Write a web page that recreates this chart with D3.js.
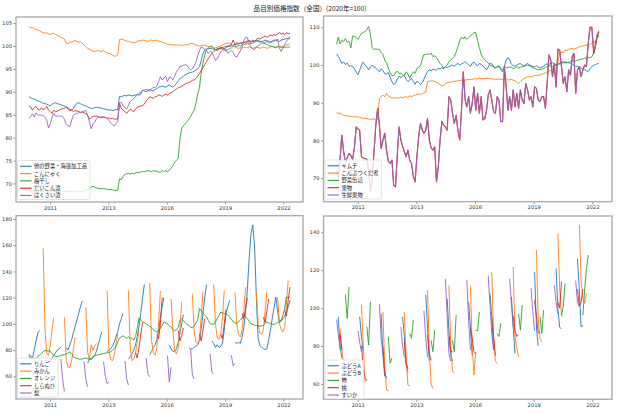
<!DOCTYPE html>
<html><head><meta charset="utf-8">
<script src="https://cdn.jsdelivr.net/npm/d3@7"></script>
<style>body{margin:0;background:#fff}svg{display:block}</style>
</head><body><svg id="c" width="620" height="413"></svg>
<script>
const _ = null;
// monthly index 0 = 2010-01 ... 147 = 2022-04
const N = 148;
const months = d3.range(N).map(i => new Date(Date.UTC(2010, i + 1, 0)));
const xTickDays = [15000, 16000, 17000, 18000, 19000];
const xTickLabels = ["2011", "2013", "2016", "2019", "2022"];
const title = "品目別価格指数（全国）(2020年=100)";

// ---- top-left
const tlNames = ["他の野菜・海藻加工品", "こんにゃく", "梅干し", "だいこん漬", "はくさい漬"];
const otherVeg = [88.9,88.7,88.5,88.4,88.2,88.0,87.9,87.7,87.5,87.4,87.3,87.1,
86.9,87.3,87.5,87.6,87.4,87.3,87.2,87.0,86.9,86.7,86.5,86.2,
86.0,86.4,87.0,87.5,87.6,87.4,87.2,87.0,86.9,86.7,86.5,86.4,
86.4,86.5,86.6,86.6,86.5,86.4,86.3,86.2,86.1,86.0,86.0,85.9,
86.0,86.1,86.1,89.0,88.9,89.1,89.2,89.1,89.3,89.2,89.1,89.2,
89.3,89.4,89.3,89.5,90.4,90.2,90.0,90.3,90.5,90.3,90.2,90.5,
90.7,91.0,91.1,91.3,91.1,91.0,91.3,91.5,91.2,91.0,91.4,91.8,
92.4,92.9,93.1,93.4,93.7,93.9,94.1,94.2,94.3,94.5,94.7,95.0,
95.5,96.8,98.3,99.1,99.3,99.4,99.5,99.4,99.3,99.2,99.4,99.5,
99.7,99.6,99.8,99.9,100.0,99.9,100.1,100.2,100.3,100.4,100.5,100.6,
100.7,100.8,100.9,101.1,101.2,101.0,100.9,101.1,101.2,101.0,100.8,101.0,
101.1,101.3,101.2,101.0,100.9,101.1,101.3,101.2,101.1,101.0,101.3,101.4,
101.5,101.6,101.7,101.9];
const konnyaku = [104.3,103.9,104.1,103.8,103.6,103.5,103.3,103.1,102.9,102.8,102.9,102.6,
102.5,102.7,102.8,102.5,102.3,102.1,101.9,101.7,101.5,100.6,100.5,100.8,
100.9,101.0,101.2,101.0,100.8,101.0,100.6,100.2,99.8,99.5,99.3,99.1,
98.9,98.8,98.9,99.0,98.8,98.8,99.0,98.7,98.5,98.4,98.3,98.0,
97.8,97.8,98.0,101.4,101.5,101.4,101.2,101.1,101.0,100.9,100.8,100.7,
100.8,101.0,101.2,101.1,101.3,101.2,101.1,101.0,101.2,101.3,101.1,101.2,
101.3,101.1,101.0,100.8,100.7,100.5,100.4,100.3,100.2,100.3,100.2,100.2,
100.2,100.2,100.1,100.2,100.3,100.2,100.4,100.5,100.6,100.4,100.2,100.1,
100.0,100.1,100.2,100.1,100.0,99.9,99.9,99.7,99.5,99.6,99.7,99.9,
100.0,100.2,100.4,100.5,100.6,100.6,100.3,100.0,99.8,99.6,99.5,99.6,
99.6,99.8,99.7,99.6,99.8,99.7,99.5,99.6,99.8,99.7,99.5,99.6,
99.8,99.7,99.5,99.6,99.8,99.9,99.7,99.6,99.8,99.9,100.0,99.8,
100.1,100.3,100.2,100.5];
const umeboshi = [68.3,68.2,68.4,68.3,68.2,68.4,68.3,68.2,68.3,68.4,68.3,68.2,
68.3,68.4,68.3,68.2,68.3,68.2,68.4,68.3,68.2,68.3,68.2,68.3,
68.3,68.2,68.3,68.4,68.3,68.2,68.3,68.4,68.5,68.7,68.9,69.1,
69.4,69.2,69.0,68.9,68.9,68.8,68.9,68.8,68.7,68.6,68.7,68.6,
68.5,68.4,68.5,71.0,70.8,71.5,72.0,72.1,72.2,72.0,72.2,72.1,
72.3,72.4,72.3,72.5,72.6,72.5,72.7,72.8,72.7,72.6,72.8,72.7,
72.7,72.5,72.4,72.8,72.6,72.8,72.5,72.9,73.3,73.9,74.6,75.0,
75.5,79.5,82.0,82.6,83.0,83.5,84.0,84.6,85.3,86.0,87.5,89.5,
91.0,94.0,96.3,98.0,99.2,99.6,99.9,100.0,99.6,99.2,99.0,99.3,
99.6,99.3,99.1,99.0,99.2,99.4,99.6,99.9,100.0,99.9,100.1,100.0,
100.2,100.4,100.3,100.5,100.4,100.6,100.6,100.8,101.0,101.2,101.1,100.9,
100.7,100.5,100.3,100.1,100.0,99.9,99.8,99.7,99.9,99.8,99.7,99.6,
99.7,99.8,99.7,99.8];
const daikonZuke = [86.9,86.7,86.0,86.5,86.8,86.2,86.0,86.5,86.1,86.3,86.8,86.0,
85.7,85.3,86.0,85.6,85.8,86.0,86.2,86.3,86.4,86.6,86.2,85.9,
86.0,85.7,85.9,85.8,85.7,85.5,85.6,85.4,85.2,84.9,84.0,84.4,
84.6,84.7,84.7,84.5,84.4,84.3,84.5,84.4,84.2,84.3,84.1,84.2,
84.0,84.1,84.0,87.5,86.4,86.0,85.7,85.3,85.8,86.2,85.9,85.7,
86.3,86.6,86.8,86.9,87.0,87.3,88.0,88.4,88.9,88.7,88.6,88.9,
89.0,89.3,89.2,89.0,89.3,89.5,89.3,89.6,89.8,90.0,90.3,90.6,
90.9,91.0,91.2,91.5,91.7,91.9,92.0,92.2,92.5,92.6,92.9,93.4,
94.0,94.6,95.3,95.9,96.6,97.2,97.8,98.4,98.8,99.1,99.3,99.5,
99.4,99.6,99.3,99.7,99.9,100.0,100.4,101.3,100.3,100.8,100.4,100.7,
100.5,100.9,100.6,100.9,101.1,100.8,101.3,101.0,101.4,101.7,101.5,101.8,
102.0,102.2,101.9,102.1,102.4,102.2,102.5,102.3,102.7,102.9,102.6,102.8,
102.5,102.9,102.7,102.8];
const hakusaiZuke = [84.2,84.6,85.2,84.5,85.4,85.0,84.9,84.9,84.8,84.5,83.8,82.1,
83.0,84.4,85.3,84.7,84.7,84.7,84.7,84.6,84.0,83.0,82.6,82.4,
83.8,84.8,85.2,85.3,85.4,85.5,85.7,85.8,85.9,84.9,83.5,81.9,
83.0,83.4,84.1,84.6,84.4,84.6,84.5,84.4,84.2,83.8,83.2,82.8,
82.5,83.1,83.5,87.6,87.7,87.0,86.6,86.2,87.0,87.9,88.2,88.6,
88.9,89.3,89.7,89.9,90.2,90.4,90.5,90.4,90.2,90.6,91.0,90.9,
91.3,92.2,93.3,92.6,93.0,93.4,92.2,93.2,93.1,92.6,93.4,94.3,
94.9,95.5,95.6,95.8,95.9,95.8,95.2,94.8,95.0,95.7,96.5,97.9,
99.0,99.8,99.6,99.3,99.0,98.4,98.8,98.7,97.8,96.9,97.2,98.0,
98.7,99.1,99.4,99.2,98.4,98.7,99.0,98.6,97.8,97.6,98.2,98.9,
99.9,101.2,101.9,101.8,100.6,99.8,99.3,99.2,99.8,100.0,100.3,100.7,
100.5,100.8,101.0,100.8,100.6,100.9,101.1,101.3,101.5,99.5,98.8,99.6,
100.4,101.0,101.5,101.7];

// ---- top-right
const trNames = ["キムチ", "こんぶつくだ煮", "野菜缶詰", "果物", "生鮮果物"];
const kimchi = [102.9,102.3,101.4,100.4,100.8,100.1,100.5,99.7,99.8,99.6,99.0,98.2,
97.4,98.6,100.0,100.8,100.0,99.5,98.7,99.5,100.0,99.5,99.2,98.7,
98.2,99.0,98.5,97.7,97.6,98.0,96.8,95.6,94.8,95.2,96.2,97.0,
96.6,97.0,97.3,96.2,95.6,96.0,96.5,95.6,94.9,95.7,95.2,94.8,
95.3,96.2,97.3,98.3,98.7,98.5,98.9,98.8,98.6,99.1,98.9,99.3,
99.0,99.6,99.3,99.6,99.8,100.0,99.6,100.2,100.4,100.0,100.3,100.5,
100.9,100.5,100.0,99.6,100.5,100.8,100.1,99.8,100.4,100.2,99.7,99.3,
98.7,99.5,100.5,100.3,99.5,99.1,99.6,99.8,98.7,98.2,99.6,101.3,
102.0,101.4,100.2,99.8,99.7,100.0,100.3,100.4,100.0,99.7,100.2,100.4,
100.0,99.8,99.6,99.5,99.8,99.5,99.2,99.4,99.7,100.1,100.3,100.2,
100.4,100.6,100.3,100.0,100.2,100.4,100.7,100.9,100.5,100.6,100.7,100.4,
100.2,99.9,99.7,99.6,99.4,99.2,99.0,98.7,98.5,98.3,99.0,99.6,
99.9,100.1,100.3,100.5];
const kombu = [87.6,87.0,87.3,86.8,86.7,86.6,86.5,86.4,86.3,86.3,86.2,86.3,
86.2,86.1,86.0,85.8,85.9,85.8,85.7,85.6,85.6,85.7,85.6,85.6,
91.2,91.6,92.0,91.6,92.5,91.8,91.5,91.2,91.3,91.2,91.4,91.2,
91.5,91.3,91.5,91.6,91.4,91.8,91.6,91.9,92.0,92.2,92.3,92.2,
92.4,92.6,92.8,95.6,95.7,95.8,95.8,95.6,95.5,95.2,94.8,94.4,
94.6,95.0,95.3,95.4,95.5,95.6,95.7,95.7,95.8,95.9,96.0,95.9,
96.0,96.1,96.2,96.1,96.2,96.3,96.4,96.3,96.5,96.4,96.3,96.4,
96.5,96.4,96.4,96.3,96.2,96.3,96.2,96.3,96.2,96.1,96.2,96.3,
96.0,96.1,96.2,96.0,95.8,95.5,95.1,95.6,96.0,96.4,96.7,96.9,
96.9,96.8,97.0,97.2,97.3,97.2,97.4,97.6,97.7,97.9,98.2,98.5,
98.4,99.0,99.5,100.0,100.9,103.1,103.4,103.3,104.0,103.8,104.2,104.3,
104.4,104.2,104.4,104.6,104.8,105.0,105.0,105.2,105.3,105.1,105.5,105.8,
106.2,106.0,107.1,108.0];
const vegCan = [105.5,107.4,105.6,106.6,106.2,107.0,106.0,106.4,104.5,107.7,107.6,107.3,
106.8,107.6,108.4,108.6,108.9,109.4,110.2,108.2,104.6,104.1,104.3,104.1,
104.2,103.3,102.8,101.3,100.6,99.2,98.0,97.2,97.2,97.9,98.4,97.7,
97.9,97.4,97.2,98.2,97.6,96.5,97.5,98.2,97.8,99.1,99.4,99.8,
101.5,102.8,102.7,103.0,102.8,103.2,102.2,102.5,102.0,101.2,100.4,100.0,
99.1,99.6,100.0,100.9,101.3,101.8,102.3,103.4,104.8,106.5,107.4,106.9,
107.5,106.8,107.3,107.7,108.1,108.6,108.6,106.5,104.6,102.8,102.0,101.4,
100.9,100.5,100.0,99.7,99.6,99.3,99.5,99.6,99.1,98.7,99.0,99.4,
99.2,99.5,99.4,99.0,99.2,99.6,99.2,99.4,99.5,99.7,99.8,100.0,
99.8,99.6,99.3,99.1,98.9,98.7,98.8,98.9,99.1,99.4,99.6,99.8,
99.7,99.6,99.8,100.0,100.2,100.3,100.4,100.6,100.9,100.7,100.6,100.9,
101.1,101.0,101.1,101.3,101.4,101.5,101.6,101.8,101.9,102.0,101.9,102.2,
103.1,105.5,108.0,107.5];
const fruit = [72,70,75,81.4,77,74,75.5,76.5,76,75,78,83.6,
83,82.7,75.7,75.3,75.2,75,72,66.4,70,77,84,88.5,
84,77.9,80,81.9,77.4,74.5,73.9,74.8,68.1,67.7,76,83.6,
80.1,78.5,77,75.7,77.4,74.8,73.9,70.5,69,75.7,81,84.5,
82.7,81.9,82.7,85.8,80.1,78,77.4,78.3,69,73,80,85,
84,83.6,82.7,91.6,90.7,87.2,84.5,86.7,82.7,80.1,88,98.2,
90.7,88.9,91.6,87.2,89.8,94.2,88,92.5,87.2,91.6,85.4,85.8,
88,92,93.4,90.7,87.6,87.2,91.6,90.7,85,85,99.6,94.2,
88,91.6,88,93.4,88.9,92.5,88.5,93.4,90.7,89.8,95.1,93.4,
90.7,91.6,88.9,94.2,93.8,90.7,90.3,91.6,91.6,88.5,95.1,102.7,
101.3,96.9,100.4,94.2,104.2,104,99.6,95.1,96.9,92.9,98.7,97.3,
102.2,103.1,92.5,98.7,99.6,96.9,98.7,100,99.6,105.8,110,110,
103,104.8,107.5,108.8];
const freshFruit = [72,70,75,81.4,77,74,75.5,76.5,76,75,78,83.6,
83,82.7,75.7,75.3,75.2,75,72,66.4,70,77,84,88.5,
84,77.9,80,81.9,77.4,74.5,73.9,74.8,68.1,67.7,76,83.6,
80.1,78.5,77,75.7,77.4,74.8,73.9,70.5,69,75.7,81,84.5,
82.7,81.9,82.7,85.8,80.1,78,77.4,78.3,69,73,80,85,
84,83.6,82.7,91.6,90.7,87.2,84.5,86.7,82.7,80.1,88,98.2,
90.7,88.9,91.6,87.2,89.8,94.2,88,92.5,87.2,91.6,85.4,85.8,
88,92,93.4,90.7,87.6,87.2,91.6,90.7,85,85,99.6,94.2,
88,91.6,88,93.4,88.9,92.5,88.5,93.4,90.7,89.8,95.1,93.4,
90.7,91.6,88.9,94.2,93.8,90.7,90.3,91.6,91.6,88.5,95.1,102.7,
101.3,96.9,100.4,94.2,104.2,104,99.6,95.1,96.9,92.9,98.7,97.3,
102.2,103.1,92.5,98.7,99.6,96.9,98.7,100,99.6,105.8,110,110,
103.8,104.5,108.2,109.1];

// ---- bottom-left
const blNames = ["りんご", "みかん", "オレンジ", "しらぬひ", "梨"];
const apple = [76,73,74,80,87,93,95,_,_,72,72.5,71,
72,74,76,78,80,81,82.5,_,_,82,80,84,
88,93,98,103,108,113,117.5,_,_,70,73,73,
74,76,79,84,89,94,_,_,79,80,81,83,
86,90,94,100,104,108,_,_,73,75,77,80,
84,90,98,108,120,130,_,_,76.5,79,82,84,
88,95,105,113,120,_,_,84,81,79,79,81,
86,93,100,107,_,_,82,80.7,81,82,83,84,
88,96,108,120,130,_,_,87,85,82,84,82,
83,85,95,108,113,118,_,_,86,85,86,85,
90,97,110,126,150,168,175.5,160,122,89,83.5,82,
81,80.5,81,88,95,104,112,120.5,110,101,102,104,
106,109,113,118];
const mikan = [_,_,_,_,_,_,_,_,157.6,96,77,76,
84,95,105,_,_,_,_,_,105,72,67,66.5,
72,80,90,_,_,_,_,_,112.7,78,73,84,
80,83,85,_,_,_,_,_,125.4,80,73,72,
76,84,92,_,_,_,_,_,125.5,82,72,73,
78,86,95,_,_,_,_,_,131.5,88,78,76,
82,100,125,_,_,_,_,_,119,95,80,77,
82,95,117,_,_,_,_,_,123,95,86,85,
88,105,124.6,_,_,_,_,_,130,100,90,88,
92,105,125.4,_,_,_,_,_,124,100,92,90,
95,110,128,_,_,_,_,_,125,100,93,92,
96,110,124.6,_,_,_,_,_,120.3,100,96,94,
98,115,133,_];
const orange = [76.9,75.5,73.3,73.2,73.5,75.3,76.2,77.5,78.7,79.7,79.5,79.4,
79.4,77.2,76.0,75.2,75.0,75.4,75.9,76.4,76.7,76.9,77.8,78.7,
77.4,75.0,74.1,73.6,73.2,73.0,73.3,73.6,74.0,73.5,73.0,73.8,
74.9,75.6,76.1,76.4,76.6,77.0,77.4,77.7,77.9,78.3,78.7,80.0,
81.2,82.5,86.0,89.3,90.0,90.9,90.1,88.8,90.1,89.3,88.8,87.6,
90.5,96.4,104.6,102.8,101.5,101.0,100.0,99.0,98.0,97.0,95.6,94.4,
93.9,95.0,96.4,99.0,101.5,100.8,100.2,98.5,97.7,95.7,94.7,95.5,
97.5,102.8,104.0,102.5,100.8,99.7,98.7,97.5,97.0,98.5,100.5,102.8,
111.7,110.0,108.5,106.6,105.3,102.8,100.2,99.8,99.5,101.5,104.0,106.5,
109.0,108.5,107.8,108.0,106.5,105.3,103.5,101.5,100.8,100.2,101.5,102.8,
104.5,106.6,105.3,104.0,102.0,100.2,99.6,99.0,98.7,98.5,98.2,98.5,
99.0,100.2,101.5,100.8,100.2,99.8,99.5,100.2,101.0,102.0,102.8,106.6,
112.0,120.6,119.8,120.6];
const shiranuhi = [_,_,_,_,_,_,_,_,_,_,_,_,
_,_,_,_,_,_,_,_,_,_,_,_,
_,_,_,_,_,_,_,_,_,_,_,_,
_,_,_,_,_,_,_,_,_,_,_,_,
_,_,_,_,_,_,_,_,_,_,_,_,
78,74,82,92,101,_,_,_,_,_,_,_,
92,88.6,100,120,_,_,_,_,_,_,_,_,
95,87,91,97,_,_,_,_,_,_,_,_,
92,87,95,104,_,_,_,_,_,_,_,_,
92,88.6,100,111,_,_,_,_,_,_,_,_,
108,104,112,120,_,_,_,_,_,_,_,_,
105,101,110,119,_,_,_,_,_,_,_,_,
110,106,118,128];
const nashi = [_,_,_,_,_,_,_,_,_,_,_,_,
_,_,_,_,_,_,73,57,48.5,_,_,_,
_,_,_,_,_,_,_,71,58,52,_,_,
_,_,_,_,_,_,71,60,54.5,55.5,_,_,
_,_,_,_,_,_,71.6,58.4,53.3,_,_,_,
_,_,_,_,_,_,74,62,59.6,_,_,_,
_,_,_,_,_,_,75.8,55.6,67,_,_,_,
_,_,_,_,_,_,_,81,61,58,_,_,
_,_,_,_,_,_,77,63,62,_,_,_,
_,_,_,_,_,_,76,68,70,_,_,_,
_,_,_,_,_,_,_,_,_,_,_,_,
_,_,_,_,_,_,_,_,_,_,_,_,
_,_,_,_];

// ---- bottom-right
const brNames = ["ぶどうA", "ぶどうB", "柿", "桃", "すいか"];
const grapeA = [_,95.4,80,73.5,_,_,_,_,_,_,_,_,
_,95.4,85,77,_,_,_,_,_,_,_,_,
_,97,75,64,_,_,_,_,_,_,_,_,
_,95.4,85,70,66,_,_,_,_,_,_,_,
_,_,106.9,90,72,_,_,_,_,_,_,_,
_,_,105,88,75,72,_,_,_,_,_,_,
_,_,103.3,90,75,_,_,_,_,_,_,_,
_,_,107.7,95,78,_,_,_,_,_,_,_,
_,_,106,90,76,_,_,_,_,_,_,_,
_,_,_,119,90,80,_,_,_,_,_,_,
_,_,_,121,100,90,89,_,_,_,_,_,
_,_,_,126,110,90,91,_,_,_,_,_,
_,_,_,_];
const grapeB = [_,_,89.3,78,70.8,_,_,_,_,_,_,_,
_,_,101.9,80.5,61.2,62.5,_,_,_,_,_,_,
_,_,98,70,56.8,56.5,_,_,_,_,_,_,
_,_,98,75,59.4,59,_,_,_,_,_,_,
_,_,_,109.5,77,60,57.6,_,_,_,_,_,
_,_,_,112,80.5,67,65.6,_,_,_,_,_,
_,_,_,112,80,64.7,77,_,_,_,_,_,
_,_,_,119,85,72,70.8,_,_,_,_,_,
_,_,_,121.8,85,78.7,74.3,_,_,_,_,_,
_,_,_,_,130.6,95,84,82.3,_,_,_,_,
_,_,_,_,139.4,110,96.3,95.5,_,_,_,_,
_,_,_,_,144,115,105,102.5,108,_,_,_,
_,_,_,_];
const kaki = [_,_,_,_,_,107.2,94.5,111.2,_,_,_,_,
_,_,_,_,_,90.2,80.5,103.3,_,_,_,_,
_,_,_,_,_,85,71,73.5,_,_,_,_,
_,_,_,_,_,86.6,84,93.7,_,_,_,_,
_,_,_,_,_,83,77,88.4,_,_,_,_,
_,_,_,_,_,83,77,96.3,_,_,_,_,
_,_,_,_,_,_,88.4,88,98,_,_,_,
_,_,_,_,_,_,86.6,85,92,_,_,_,
_,_,_,_,_,_,97,88.4,101.6,_,_,_,
_,_,_,_,_,_,95.4,86.6,98.9,_,_,_,
_,_,_,_,_,_,96,101,113,_,_,_,
_,_,_,_,_,_,96.3,110,121,128,_,_,
_,_,_,_];
const momo = [_,_,86,78,_,_,_,_,_,_,_,_,
_,_,80,68,63,62,_,_,_,_,_,_,
_,_,80,66,63,_,_,_,_,_,_,_,
_,_,82,71,68,_,_,_,_,_,_,_,
_,_,_,86,76,72.5,_,_,_,_,_,_,
_,_,_,85,77,77,_,_,_,_,_,_,
_,_,_,90,84,77,76,_,_,_,_,_,
_,_,_,95,85,75,_,_,_,_,_,_,
_,_,_,96,88,85,86,_,_,_,_,_,
_,_,_,104,96,87,87,_,_,_,_,_,
_,_,_,_,103,100,114,_,_,_,_,_,
_,_,_,110,101,103,110,_,_,_,_,_,
_,_,_,_];
const suika = [94,86,78,_,_,_,_,_,_,_,_,_,
88,82,77,_,_,_,_,_,_,_,_,_,
102,84,76,_,_,_,_,_,_,_,_,_,
90,80,74,_,_,_,_,_,_,_,_,_,
_,98.5,84,74,_,_,_,_,_,_,_,_,
_,115.5,96,76,72,_,_,_,_,_,_,_,
_,115,93,78,_,_,_,_,_,_,_,_,
_,117,101,86,78,_,_,_,_,_,_,_,
_,115.5,102,90,_,_,_,_,_,_,_,_,
_,110.5,98,88,_,_,_,_,_,_,_,_,
_,_,112,103,97,_,_,_,_,_,_,_,
_,_,114.5,103,101,_,_,_,_,_,_,_,
_,_,_,_];

const colors = ["#1f77b4", "#ff7f0e", "#2ca02c", "#d62728", "#9467bd"];

const panels = [
  {box: [16, 17, 303, 202], yDom: [65.94, 106.33], yTicks: d3.range(70, 106, 5),
   names: tlNames, series: [otherVeg, konnyaku, umeboshi, daikonZuke, hakusaiZuke],
   leg: [17.5, 160.5]},
  {box: [323.5, 16, 612, 201.7], yDom: [63.74, 113.0], yTicks: [70, 80, 90, 100, 110],
   names: trNames, series: [kimchi, kombu, vegCan, fruit, freshFruit],
   leg: [325, 160]},
  {box: [16, 215.7, 303, 399], yDom: [42.7, 182.5], yTicks: d3.range(60, 181, 20),
   names: blNames, series: [apple, mikan, orange, shiranuhi, nashi],
   leg: [17.5, 358]},
  {box: [323.5, 216, 612, 399.3], yDom: [51.9, 148.6], yTicks: [60, 80, 100, 120, 140],
   names: brNames, series: [grapeA, grapeB, kaki, momo, suika],
   leg: [325, 360]}
];

const svg = d3.select("#c");
svg.append("rect").attr("width", 620).attr("height", 413).attr("fill", "#fff");
svg.append("text").attr("x", 310).attr("y", 10.5).attr("text-anchor", "middle")
  .attr("font-family", "Noto Sans CJK JP").attr("font-size", 6.6).attr("fill", "#222")
  .text(title);

const d0 = +months[0], d1 = +months[N - 1], pad = (d1 - d0) * 0.05;

panels.forEach((p, pi) => {
  const [x0, y0, x1, y1] = p.box;
  const x = d3.scaleUtc().domain([new Date(d0 - pad), new Date(d1 + pad)]).range([x0, x1]);
  const y = d3.scaleLinear().domain(p.yDom).range([y1, y0]);
  const g = svg.append("g");
  const cid = "clip" + pi;
  g.append("clipPath").attr("id", cid).append("rect")
    .attr("x", x0).attr("y", y0).attr("width", x1 - x0).attr("height", y1 - y0);

  const xa = d3.axisBottom(x).tickValues(xTickDays.map(d => new Date(d * 86400000)))
    .tickFormat((d, i) => xTickLabels[i]).tickSize(2.5).tickPadding(1.5);
  const gx = g.append("g").attr("transform", `translate(0,${y1})`).call(xa);
  const ya = d3.axisLeft(y).tickValues(p.yTicks).tickSize(2.5).tickPadding(1.5);
  const gy = g.append("g").attr("transform", `translate(${x0},0)`).call(ya);
  [gx, gy].forEach(a => {
    a.select(".domain").remove();
    a.selectAll("line").attr("stroke", "#444").attr("stroke-width", 0.6);
    a.selectAll("text").attr("font-family", "DejaVu Sans").attr("font-size", 5.2).attr("fill", "#333");
  });

  const line = d3.line().defined(d => d != null)
    .x((d, i) => x(months[i])).y(d => y(d));
  const lg = g.append("g").attr("clip-path", `url(#${cid})`);
  p.series.forEach((s, si) => {
    const w = (pi === 1 && si === 3) ? 1.15 : 0.9;
    lg.append("path").attr("d", line(s)).attr("fill", "none")
      .attr("stroke", colors[si]).attr("stroke-width", w).attr("stroke-linejoin", "round");
  });

  g.append("rect").attr("x", x0).attr("y", y0).attr("width", x1 - x0).attr("height", y1 - y0)
    .attr("fill", "none").attr("stroke", "#a8a8a8").attr("stroke-width", 1.3);

  const [lx, ly] = p.leg;
  const lgd = g.append("g");
  const box = lgd.append("rect").attr("x", lx).attr("y", ly).attr("rx", 1.5)
    .attr("fill", "#fff").attr("fill-opacity", 0.8).attr("stroke", "#d0d0d0").attr("stroke-width", 0.6);
  let maxW = 0;
  p.names.forEach((n, k) => {
    const yy = ly + 5.8 + k * 7.3;
    lgd.append("line").attr("x1", lx + 2.5).attr("x2", lx + 14).attr("y1", yy).attr("y2", yy)
      .attr("stroke", colors[k]).attr("stroke-width", 1.1);
    const t = lgd.append("text").attr("x", lx + 16.5).attr("y", yy + 1.9)
      .attr("font-family", "Noto Sans CJK JP").attr("font-size", 5.3).attr("fill", "#222").text(n);
    maxW = Math.max(maxW, t.node().getComputedTextLength());
  });
  box.attr("width", 16.5 + maxW + 3).attr("height", 5 * 7.3 + 2.5);
});
</script></body></html>
